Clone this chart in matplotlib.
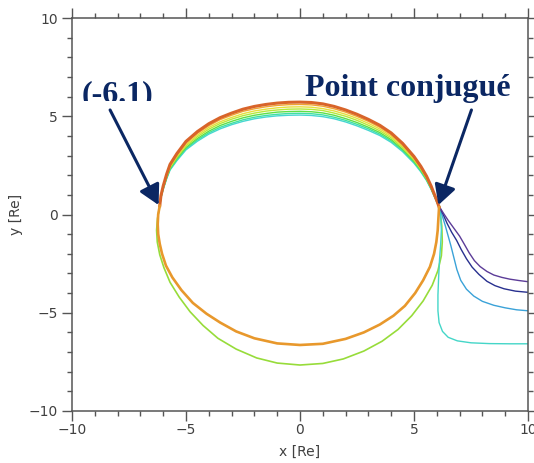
import matplotlib
matplotlib.use("Agg")
import matplotlib.pyplot as plt
from matplotlib.ticker import MultipleLocator
from matplotlib.transforms import Bbox

# ---- field-line traces (x, y in Earth radii) ----
# shared abscissae for the dayward arcs over the top of the shell
arc_x = [-6.15, -6.1, -6.0, -5.85, -5.7, -5.4, -5.0, -4.5, -4.0, -3.5, -3.0, -2.5, -2.0,
         -1.5, -1.0, -0.5, 0.0, 0.5, 1.0, 1.5, 2.0, 2.5, 3.0, 3.5, 4.0, 4.5, 5.0,
         5.3, 5.55, 5.75, 5.92, 6.02, 6.1]
arc_y_1 = [0.45, 0.95, 1.45, 2.05, 2.55, 3.10, 3.72, 4.22, 4.62, 4.93, 5.16, 5.36, 5.50,
           5.60, 5.67, 5.71, 5.72, 5.70, 5.63, 5.50, 5.32, 5.10, 4.84, 4.54, 4.15, 3.62, 2.95,
           2.45, 1.95, 1.45, 0.95, 0.65, 0.38]
arc_y_2 = [0.45, 0.93, 1.42, 2.01, 2.50, 3.03, 3.64, 4.13, 4.52, 4.83, 5.05, 5.25, 5.38,
           5.48, 5.55, 5.59, 5.60, 5.58, 5.51, 5.38, 5.21, 4.99, 4.74, 4.44, 4.06, 3.54, 2.89,
           2.40, 1.91, 1.42, 0.93, 0.64, 0.38]
arc_y_3 = [0.45, 0.91, 1.39, 1.96, 2.44, 2.97, 3.56, 4.04, 4.43, 4.72, 4.94, 5.13, 5.27,
           5.36, 5.43, 5.47, 5.48, 5.46, 5.39, 5.27, 5.10, 4.89, 4.64, 4.35, 3.98, 3.47, 2.83,
           2.35, 1.87, 1.39, 0.91, 0.62, 0.38]
arc_y_4 = [0.45, 0.89, 1.36, 1.92, 2.39, 2.91, 3.49, 3.96, 4.34, 4.63, 4.85, 5.03, 5.16,
           5.26, 5.32, 5.36, 5.37, 5.35, 5.29, 5.16, 5.00, 4.79, 4.54, 4.26, 3.90, 3.40, 2.77,
           2.30, 1.83, 1.36, 0.89, 0.61, 0.38]
arc_y_5 = [0.45, 0.87, 1.33, 1.88, 2.34, 2.85, 3.41, 3.87, 4.24, 4.53, 4.74, 4.92, 5.05,
           5.14, 5.21, 5.24, 5.25, 5.23, 5.17, 5.05, 4.88, 4.68, 4.44, 4.17, 3.81, 3.32, 2.71,
           2.25, 1.79, 1.33, 0.87, 0.60, 0.38]
arc_y_6 = [0.45, 0.86, 1.31, 1.85, 2.30, 2.79, 3.35, 3.80, 4.16, 4.44, 4.64, 4.82, 4.95,
           5.04, 5.10, 5.14, 5.15, 5.13, 5.07, 4.95, 4.79, 4.59, 4.36, 4.09, 3.74, 3.26, 2.66,
           2.21, 1.76, 1.31, 0.86, 0.59, 0.38]
arc_y_7 = [0.45, 0.84, 1.28, 1.81, 2.26, 2.74, 3.29, 3.73, 4.09, 4.36, 4.57, 4.74, 4.87,
           4.96, 5.02, 5.05, 5.06, 5.04, 4.98, 4.87, 4.71, 4.51, 4.28, 4.02, 3.67, 3.20, 2.61,
           2.17, 1.73, 1.28, 0.84, 0.58, 0.38]
arc_colors = ["#d8642a", "#f0a532", "#e6df3c", "#b6e83a", "#5fdf46", "#3fe0a2", "#46d6d2"]

# lower closed shell (orange)
orange_x = [-6.15, -6.22, -6.24, -6.22, -6.15, -6.05, -5.88, -5.6, -5.2, -4.7, -4.1, -3.5,
            -2.8, -2.0, -1.0, 0.0, 1.0, 2.0, 2.8, 3.5, 4.1, 4.6, 5.05, 5.4, 5.7, 5.88,
            5.98, 6.04, 6.07, 6.1]
orange_y = [0.45, 0.0, -0.5, -1.0, -1.5, -2.0, -2.6, -3.2, -3.85, -4.5, -5.05, -5.5,
            -5.95, -6.3, -6.56, -6.64, -6.58, -6.33, -6.0, -5.6, -5.15, -4.65, -4.0, -3.35,
            -2.66, -2.0, -1.4, -0.8, -0.2, 0.38]
# outer lower shell (yellow-green)
green_x = [-6.15, -6.25, -6.29, -6.26, -6.15, -5.97, -5.70, -5.3, -4.82, -4.25, -3.6, -2.8,
           -1.9, -1.0, 0.0, 1.0, 1.9, 2.8, 3.6, 4.3, 4.9, 5.4, 5.8, 6.05, 6.2, 6.24,
           6.22, 6.15, 6.12]
green_y = [0.45, -0.2, -0.8, -1.4, -2.05, -2.7, -3.45, -4.2, -4.95, -5.65, -6.3, -6.85,
           -7.3, -7.56, -7.66, -7.58, -7.35, -6.95, -6.45, -5.85, -5.15, -4.4, -3.6, -2.85,
           -2.1, -1.4, -0.6, 0.1, 0.38]

# open traces leaving the conjugate point toward the tail
purple_x = [6.12, 6.3, 6.5, 6.75, 7.0, 7.2, 7.42, 7.65, 7.9, 8.2, 8.5, 8.85, 9.2, 9.6, 10.0]
purple_y = [0.38, 0.05, -0.3, -0.7, -1.1, -1.5, -1.95, -2.35, -2.65, -2.9, -3.08, -3.2,
            -3.29, -3.36, -3.42]
navy_x = [6.12, 6.28, 6.45, 6.65, 6.87, 7.07, 7.3, 7.55, 7.85, 8.2, 8.55, 8.95, 9.45, 10.0]
navy_y = [0.38, 0.0, -0.45, -0.9, -1.32, -1.78, -2.25, -2.68, -3.05, -3.4, -3.62, -3.78,
          -3.9, -3.96]
blue_x = [6.12, 6.25, 6.38, 6.5, 6.62, 6.75, 6.88, 7.05, 7.3, 7.62, 8.0, 8.5, 9.0, 9.5, 10.0]
blue_y = [0.38, -0.1, -0.6, -1.1, -1.6, -2.2, -2.8, -3.35, -3.8, -4.15, -4.42, -4.62,
          -4.75, -4.85, -4.9]
cyan_x = [6.12, 6.18, 6.2, 6.17, 6.12, 6.08, 6.05, 6.05, 6.1, 6.25, 6.5, 6.9, 7.5, 8.3,
          9.2, 10.0]
cyan_y = [0.38, -0.2, -0.8, -1.5, -2.3, -3.2, -4.1, -4.9, -5.5, -5.95, -6.25, -6.43,
          -6.53, -6.57, -6.58, -6.58]

conj_left = (-6.2, 0.48)
conj_right = (6.07, 0.48)

navy = "#0b2763"
axis_grey = "#555555"

fig = plt.figure(figsize=(5.34, 4.63), dpi=100)
ax = fig.add_axes([72 / 534, 52 / 463, 456 / 534, 393 / 463])

ax.plot(green_x, green_y, color="#97dc3a", lw=1.2, zorder=2)
ax.plot(cyan_x, cyan_y, color="#44d6c8", lw=1.0, zorder=2)
ax.plot(blue_x, blue_y, color="#3aa2d8", lw=1.0, zorder=2)
ax.plot(navy_x, navy_y, color="#28308f", lw=1.0, zorder=2)
ax.plot(purple_x, purple_y, color="#5c3c98", lw=1.0, zorder=2)

arcs = [arc_y_1, arc_y_2, arc_y_3, arc_y_4, arc_y_5, arc_y_6, arc_y_7]
for k in range(len(arcs) - 1, -1, -1):
    lw = 2.2 if k == 0 else 1.0
    ax.plot(arc_x, arcs[k], color=arc_colors[k], lw=lw, zorder=3)

ax.plot(orange_x, orange_y, color="#e8982c", lw=1.9, zorder=4)

ax.set_xlim(-10, 10)
ax.set_ylim(-10, 10)
ax.xaxis.set_major_locator(MultipleLocator(5))
ax.yaxis.set_major_locator(MultipleLocator(5))
ax.xaxis.set_minor_locator(MultipleLocator(1))
ax.yaxis.set_minor_locator(MultipleLocator(1))
ax.tick_params(which="both", direction="out", top=True, right=True,
               color=axis_grey, width=1.0, labelsize=10, labelcolor="#404040", pad=3)
ax.tick_params(axis="x", which="both", pad=1.5)
ax.tick_params(which="major", length=7)
ax.tick_params(which="minor", length=3.5)
for sp in ax.spines.values():
    sp.set_color(axis_grey)
    sp.set_linewidth(1.1)

ax.set_xlabel("x [Re]", fontsize=10, color="#404040", labelpad=6)
ax.set_ylabel("y [Re]", fontsize=10, color="#404040", labelpad=4)

arrow_kw = dict(arrowstyle="-|>,head_length=1.2,head_width=0.65",
                color=navy, lw=2.2, shrinkA=0, shrinkB=0, mutation_scale=10)
ax.annotate("", xy=conj_left, xytext=(-8.33, 5.32), arrowprops=arrow_kw, zorder=6)
ax.annotate("", xy=conj_right, xytext=(7.52, 5.32), arrowprops=arrow_kw, zorder=6)

serif = ["Liberation Serif", "DejaVu Serif"]
t1 = ax.text(-9.56, 5.72, "(-6.1)", fontsize=23, fontweight="bold", family=serif,
             color=navy, ha="left", va="baseline", zorder=7)
# the lower part of the left label is cut off at the height of the arc tops
t1.set_clip_box(Bbox.from_extents(0, 463 - 101, 534, 463))
t1.set_clip_on(True)
ax.text(0.22, 6.03, "Point conjugué", fontsize=23, fontweight="bold", family=serif,
        color=navy, ha="left", va="baseline", zorder=7, clip_on=False)

fig.savefig("out.png", dpi=100)
